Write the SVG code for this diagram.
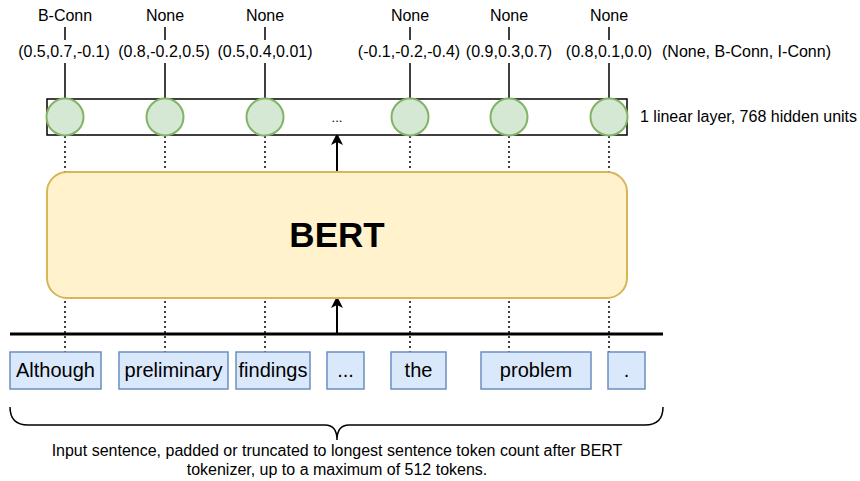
<svg xmlns="http://www.w3.org/2000/svg" width="860" height="481" viewBox="0 0 860 481">
<defs>
<marker id="ah" markerWidth="12" markerHeight="12" refX="6" refY="6" orient="auto" markerUnits="userSpaceOnUse" viewBox="0 0 12 12">
<path d="M0,0 L12,6 L0,12 L3,6 Z" fill="#000"/>
</marker>
<style>
text{font-family:"Liberation Sans",Arial,Helvetica,sans-serif;fill:#000}
.lbl{font-size:16px;text-anchor:middle}
.tok{font-size:20px;text-anchor:middle}
.tokbox{fill:#dae8fc;stroke:#6c8ebf;stroke-width:1.5}
.circ{fill:#d5e8d4;stroke:#82b366;stroke-width:2}
.dot{stroke:#000;stroke-width:1.5;stroke-dasharray:2 3;fill:none}
.ln{stroke:#000;stroke-width:1.5;fill:none}
</style>
</defs>
<rect width="860" height="481" fill="#fff"/>

<g id="connectors">
<path class="dot" d="M65,136 V352 M165,136 V352 M265,136 V352 M410,136 V352 M509,136 V352 M609,136 V352"/>
<path class="ln" d="M65,27 V40 M65,63 V99 M165,27 V40 M165,63 V99 M265,27 V40 M265,63 V99 M410,27 V40 M410,63 V99 M509,27 V40 M509,63 V99 M609,27 V40 M609,63 V99"/>
<line x1="10" y1="334" x2="663" y2="334" stroke="#000" stroke-width="3"/>
<line x1="337" y1="334" x2="337" y2="302" stroke="#000" stroke-width="2" marker-end="url(#ah)"/>
<line x1="337" y1="172" x2="337" y2="139" stroke="#000" stroke-width="2" marker-end="url(#ah)"/>
<path class="ln" d="M10,407 Q10,425 28,425 L325,425 Q337,425 337,440 Q337,425 349,425 L645,425 Q663,425 663,407"/>
</g>

<g id="layer">
<rect x="47" y="99" width="580" height="36" fill="#fff" stroke="#000" stroke-width="1.5"/>
<circle class="circ" cx="65" cy="117" r="18.5"/>
<circle class="circ" cx="165" cy="117" r="18.5"/>
<circle class="circ" cx="265" cy="117" r="18.5"/>
<circle class="circ" cx="410" cy="117" r="18.5"/>
<circle class="circ" cx="509" cy="117" r="18.5"/>
<circle class="circ" cx="609" cy="117" r="18.5"/>
<text x="337" y="122" style="font-size:13px;text-anchor:middle">...</text>
<text x="640" y="122" style="font-size:16px">1 linear layer, 768 hidden units</text>
</g>

<g id="outputs">
<text class="lbl" x="65" y="21">B-Conn</text>
<text class="lbl" x="165" y="21">None</text>
<text class="lbl" x="265" y="21">None</text>
<text class="lbl" x="410" y="21">None</text>
<text class="lbl" x="509" y="21">None</text>
<text class="lbl" x="609" y="21">None</text>
<text class="lbl" x="64" y="57">(0.5,0.7,-0.1)</text>
<text class="lbl" x="164" y="57">(0.8,-0.2,0.5)</text>
<text class="lbl" x="265" y="57">(0.5,0.4,0.01)</text>
<text class="lbl" x="409" y="57">(-0.1,-0.2,-0.4)</text>
<text class="lbl" x="509" y="57">(0.9,0.3,0.7)</text>
<text class="lbl" x="609" y="57">(0.8,0.1,0.0)</text>
<text x="662" y="57" style="font-size:16px">(None, B-Conn, I-Conn)</text>
</g>

<g id="bert">
<rect x="47" y="172" width="580" height="126" rx="20" ry="20" fill="#fff2cc" stroke="#d6b656" stroke-width="2"/>
<text x="337" y="247" style="font-size:35px;font-weight:bold;text-anchor:middle">BERT</text>
</g>

<g id="tok-although"><rect class="tokbox" x="10" y="352" width="91" height="37"/><text class="tok" x="55.5" y="377">Although</text></g>
<g id="tok-preliminary"><rect class="tokbox" x="119" y="352" width="109" height="37"/><text class="tok" x="173.5" y="377">preliminary</text></g>
<g id="tok-findings"><rect class="tokbox" x="236" y="352" width="74" height="37"/><text class="tok" x="273" y="377">findings</text></g>
<g id="tok-ellipsis"><rect class="tokbox" x="327" y="352" width="37" height="37"/><text class="tok" x="345.5" y="377">...</text></g>
<g id="tok-the"><rect class="tokbox" x="391" y="352" width="55" height="37"/><text class="tok" x="418.5" y="377">the</text></g>
<g id="tok-problem"><rect class="tokbox" x="481" y="352" width="110" height="37"/><text class="tok" x="536" y="377">problem</text></g>
<g id="tok-period"><rect class="tokbox" x="608" y="352" width="37" height="37"/><text class="tok" x="626.5" y="377">.</text></g>

<g id="caption">
<text class="lbl" x="337" y="456">Input sentence, padded or truncated to longest sentence token count after BERT</text>
<text class="lbl" x="337" y="475">tokenizer, up to a maximum of 512 tokens.</text>
</g>
</svg>
